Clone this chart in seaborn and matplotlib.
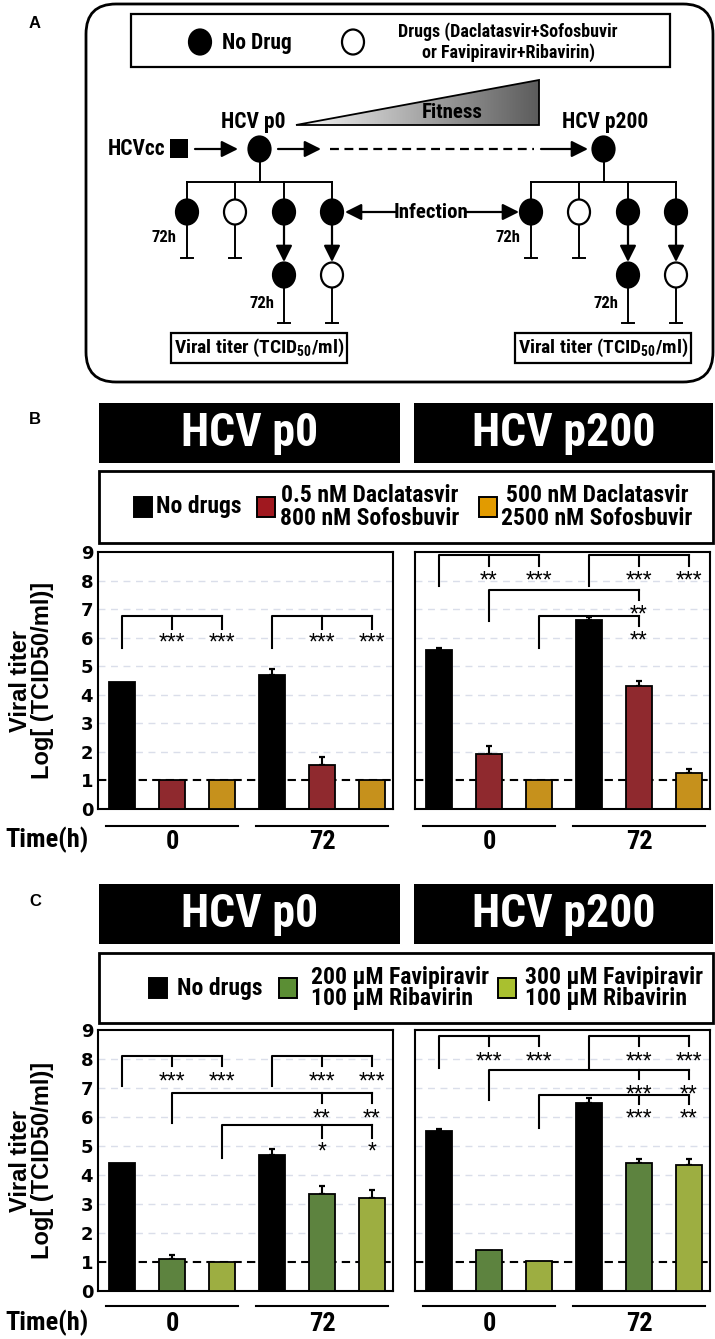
import matplotlib

matplotlib.use("Agg")
import matplotlib.pyplot as plt
import matplotlib.transforms as mtransforms
import numpy as np
import pandas as pd
import seaborn as sns
from matplotlib import font_manager
from matplotlib.colors import LinearSegmentedColormap
from matplotlib.patches import Ellipse, FancyBboxPatch, Polygon, Rectangle

W, H = 715, 1339

_names = {f.name for f in font_manager.fontManager.ttflist}
NARROW = next((n for n in ["Liberation Sans Narrow", "Arial Narrow", "Roboto Condensed",
                           "Open Sans Condensed", "Nimbus Sans Narrow"] if n in _names),
              "Liberation Sans")
SANS = "Liberation Sans"

plt.rcParams["font.family"] = [SANS, "DejaVu Sans"]
plt.rcParams["mathtext.fontset"] = "custom"
plt.rcParams["mathtext.rm"] = f"{NARROW}:bold"
plt.rcParams["mathtext.bf"] = f"{NARROW}:bold"

# ---- data -------------------------------------------------------------
TIMES = ["0", "72"]
TREATMENTS = ["none", "low", "high"]
B_LABELS = [["No drugs"], ["0.5 nM Daclatasvir", "800 nM Sofosbuvir"],
            ["500 nM Daclatasvir", "2500 nM Sofosbuvir"]]
C_LABELS = [["No drugs"], ["200 µM Favipiravir", "100 µM Ribavirin"],
            ["300 µM Favipiravir", "100 µM Ribavirin"]]
B_COLORS = ["#000000", "#A0181F", "#E29B00"]
C_COLORS = ["#000000", "#5B8E34", "#A9C02F"]
PASSAGES = ["HCV p0", "HCV p200"]

# order: 0h (none, low, high), 72h (none, low, high)
B_P0_MEAN = [4.45, 1.0, 1.0, 4.71, 1.53, 1.0]
B_P0_ERR = [0.0, 0.0, 0.0, 0.21, 0.28, 0.0]
B_P200_MEAN = [5.58, 1.91, 1.02, 6.62, 4.32, 1.26]
B_P200_ERR = [0.06, 0.29, 0.0, 0.12, 0.15, 0.14]
C_P0_MEAN = [4.42, 1.11, 1.0, 4.68, 3.36, 3.21]
C_P0_ERR = [0.0, 0.14, 0.0, 0.2, 0.25, 0.28]
C_P200_MEAN = [5.53, 1.4, 1.02, 6.49, 4.42, 4.36]
C_P200_ERR = [0.04, 0.0, 0.0, 0.18, 0.14, 0.2]

# significance brackets: (left bar, top, left leg end, tick end, star y, {bar: stars})
B_P0_SIG = [(0, 6.75, 5.65, 6.3, 6.04, {1: "***", 2: "***"}),
            (3, 6.75, 5.65, 6.3, 6.04, {4: "***", 5: "***"})]
B_P200_SIG = [(0, 8.9, 7.8, 8.5, 8.2, {1: "**", 2: "***"}),
              (3, 8.9, 7.8, 8.5, 8.2, {4: "***", 5: "***"}),
              (1, 7.68, 6.6, 7.32, 7.02, {4: "**"}),
              (2, 6.77, 5.65, 6.42, 6.12, {4: "**"})]
C_P0_SIG = [(0, 8.1, 7.07, 7.76, 7.42, {1: "***", 2: "***"}),
            (3, 8.1, 7.07, 7.76, 7.42, {4: "***", 5: "***"}),
            (1, 6.82, 5.8, 6.49, 6.16, {4: "**", 5: "**"}),
            (2, 5.74, 4.6, 5.28, 5.0, {4: "*", 5: "*"})]
C_P200_SIG = [(0, 8.78, 7.7, 8.45, 8.1, {1: "***", 2: "***"}),
              (3, 8.78, 7.7, 8.45, 8.1, {4: "***", 5: "***"}),
              (1, 7.62, 6.58, 7.32, 6.98, {4: "***", 5: "**"}),
              (2, 6.76, 5.63, 6.44, 6.15, {4: "***", 5: "**"})]


def narrow_factor():
    # shrink sizes when no condensed face is installed, so widths match
    tmp = plt.figure(dpi=100)
    t = tmp.text(0, 0, "Drugs (Daclatasvir+Sofosbuvir", fontsize=13, fontweight="bold", family=NARROW)
    w = t.get_window_extent(tmp.canvas.get_renderer()).width
    plt.close(tmp)
    return min(1.0, 227 / w)


NF = narrow_factor()


def px_rect(x0, y0, x1, y1):
    return [x0 / W, 1 - y1 / H, (x1 - x0) / W, (y1 - y0) / H]


def slot_x(i):
    return i // 3 + (i % 3 - 1) / 3


def titer_frame(means):
    return pd.DataFrame({
        "time": [TIMES[i // 3] for i in range(len(means))],
        "treatment": [TREATMENTS[i % 3] for i in range(len(means))],
        "titer": means,
    })


# ---- scheme helpers ---------------------------------------------------
def circle(cv, x, y, filled):
    cv.add_patch(Ellipse((x, y), 22, 25, facecolor="black" if filled else "white",
                         edgecolor="black", lw=1.6, zorder=3))


def arrow(cv, x0, y0, x1, y1):
    cv.annotate("", xy=(x1, y1), xytext=(x0, y0),
                arrowprops=dict(arrowstyle="-|>,head_length=0.9,head_width=0.45", color="black",
                                lw=1.6, shrinkA=0, shrinkB=0, mutation_scale=11))


def stop(cv, x, y0, y1):
    cv.plot([x, x], [y0, y1], color="black", lw=1.4)
    cv.plot([x - 6, x + 6], [y1, y1], color="black", lw=1.4)


def label(cv, x, y, s, size, ha="center", color="black", family=NARROW):
    if family == NARROW:
        size = size * NF
    cv.text(x, y, s, ha=ha, va="center", fontsize=size, fontweight="bold", color=color, family=family)


def lineage(cv, dx):
    cx = 259.5 + dx
    cv.plot([cx, cx], [162, 182], color="black", lw=1.4)
    cv.plot([187 + dx, 332 + dx], [182, 182], color="black", lw=1.4)
    for bx, filled in zip([187, 235, 284, 332], [True, False, True, True]):
        cv.plot([bx + dx, bx + dx], [182, 200], color="black", lw=1.4)
        circle(cv, bx + dx, 212, filled)
    stop(cv, 187 + dx, 224.5, 258)
    stop(cv, 235 + dx, 224.5, 258)
    arrow(cv, 284 + dx, 224.5, 284 + dx, 262)
    arrow(cv, 332 + dx, 224.5, 332 + dx, 262)
    circle(cv, 284 + dx, 275, True)
    circle(cv, 332 + dx, 275, False)
    stop(cv, 284 + dx, 287.5, 323)
    stop(cv, 332 + dx, 287.5, 323)
    label(cv, 177 + dx, 238, "72h", 12, ha="right")
    label(cv, 274 + dx, 303, "72h", 12, ha="right")
    cv.add_patch(Rectangle((171 + dx, 333), 176, 30, facecolor="white", edgecolor="black", lw=1.6))
    label(cv, 259 + dx, 348, r"Viral titer (TCID$_{50}$/ml)", 14)


def draw_scheme(cv):
    label(cv, 35, 23, "A", 12, family=SANS)
    cv.add_patch(FancyBboxPatch((86, 4), 627, 378, boxstyle="round,pad=0,rounding_size=30",
                                facecolor="white", edgecolor="black", lw=2))
    cv.add_patch(Rectangle((131, 14), 539, 53, facecolor="white", edgecolor="black", lw=1.6))
    circle(cv, 200, 42, True)
    label(cv, 222, 43, "No Drug", 15.5, ha="left")
    circle(cv, 353, 42, False)
    label(cv, 508, 32, "Drugs (Daclatasvir+Sofosbuvir", 13)
    label(cv, 508, 53, "or Favipiravir+Ribavirin)", 13)

    tri = Polygon([(296, 125), (539, 80), (539, 125)], closed=True, facecolor="none",
                  edgecolor="black", lw=1.3, zorder=3)
    cv.add_patch(tri)
    cmap = LinearSegmentedColormap.from_list("fit", ["#f6f6f6", "#5c5c5c"])
    img = cv.imshow(np.linspace(0, 1, 256)[None, :], cmap=cmap, extent=(296, 539, 125, 80),
                    aspect="auto", zorder=2)
    img.set_clip_path(tri)
    label(cv, 452, 112, "Fitness", 15)
    label(cv, 253, 122, "HCV p0", 15.5)
    label(cv, 605, 122, "HCV p200", 15.5)

    label(cv, 165, 149, "HCVcc", 15.5, ha="right")
    cv.add_patch(Rectangle((170, 139), 18, 19, facecolor="black"))
    arrow(cv, 195, 149, 238, 149)
    circle(cv, 259.5, 149, True)
    arrow(cv, 278, 149, 321, 149)
    cv.plot([330, 534], [149, 149], color="black", lw=1.6, ls=(0, (4, 2.5)))
    arrow(cv, 541, 149, 588, 149)
    circle(cv, 603.5, 149, True)

    lineage(cv, 0)
    lineage(cv, 344)
    label(cv, 431, 212, "Infection", 15)
    arrow(cv, 396, 212, 345, 212)
    arrow(cv, 466, 212, 519, 212)


def draw_header(cv, y0, letter):
    label(cv, 35, y0 + 17, letter, 12, family=SANS)
    for (x0, x1), name in zip([(99, 400), (414, 713)], PASSAGES):
        cv.add_patch(Rectangle((x0, y0), x1 - x0, 60, facecolor="black"))
        label(cv, (x0 + x1) / 2, y0 + 30, name, 33, color="white")


def draw_legend(cv, y0, y1, labels, colors, squares, text_x, centered):
    cv.add_patch(Rectangle((99, y0), 614, y1 - y0, facecolor="white", edgecolor="black", lw=2))
    mid = (y0 + y1) / 2
    for lines, col, sx, tx in zip(labels, colors, squares, text_x):
        cv.add_patch(Rectangle((sx, mid - 10), 18, 20, facecolor=col, edgecolor="black", lw=1.4))
        ha = "center" if centered and len(lines) > 1 else "left"
        if len(lines) == 1:
            label(cv, tx, mid, lines[0], 17, ha=ha)
        else:
            gap = 11.5 if centered else 10.5
            label(cv, tx, mid - gap, lines[0], 17, ha=ha)
            label(cv, tx, mid + gap, lines[1], 17, ha=ha)


# ---- bar panels -------------------------------------------------------
def draw_bars(ax, means, errs, colors, sigs, show_y, line_y):
    df = titer_frame(means)
    for v in range(2, 9):
        ax.axhline(v, color="#dadeea", lw=1.0, ls=(0, (5, 4)), zorder=0)
    ax.axhline(1, color="black", lw=1.5, ls=(0, (4, 2.5)), zorder=1)
    sns.barplot(data=df, x="time", y="titer", hue="treatment", order=TIMES, hue_order=TREATMENTS,
                palette=dict(zip(TREATMENTS, colors)), width=1.0, gap=0.48, edgecolor="black",
                linewidth=1.3, errorbar=None, legend=False, ax=ax, zorder=3)
    up = [(slot_x(i), m, e) for i, (m, e) in enumerate(zip(means, errs)) if e > 0]
    ax.errorbar([u[0] for u in up], [u[1] for u in up],
                yerr=[[0] * len(up), [u[2] for u in up]], fmt="none", ecolor="black",
                elinewidth=1.5, capsize=2.5, capthick=1.6, zorder=2)

    for left, top, leg, tick, star_y, stars in sigs:
        right = max(stars)
        ax.plot([slot_x(left), slot_x(left), slot_x(right)], [leg, top, top], color="black", lw=1.5)
        for pos, s in stars.items():
            ax.plot([slot_x(pos), slot_x(pos)], [top, tick], color="black", lw=1.5)
            ax.annotate(s, (slot_x(pos), star_y), xytext=(0, -9.2), textcoords="offset points",
                        ha="center", va="baseline", fontsize=16.5, family=SANS)

    ax.set_xlim(-0.493, 1.473)
    ax.set_ylim(0, 9)
    ax.set_yticks(range(10))
    ax.set_xticks([0, 1])
    ax.set_xticklabels(TIMES, fontsize=19 * NF, fontweight="bold", family=NARROW)
    ax.tick_params(axis="x", length=0, pad=15)
    ax.tick_params(axis="y", length=0, pad=3.5, labelleft=show_y)
    for t in ax.get_yticklabels():
        t.set_fontfamily("DejaVu Sans")
        t.set_fontweight("bold")
        t.set_fontsize(13)
    ax.set_xlabel("")
    ax.set_ylabel("")
    for sp in ax.spines.values():
        sp.set_visible(True)
        sp.set_linewidth(1.5)
        sp.set_color("black")
    ax.set_facecolor("none")
    blend = mtransforms.blended_transform_factory(ax.transData, ax.transAxes)
    for g in range(len(TIMES)):
        ax.plot([g - 0.44, g + 0.44], [line_y, line_y], color="black", lw=1.5,
                transform=blend, clip_on=False)
    if show_y:
        ax.set_ylabel("Viral titer\nLog[ (TCID50/ml)]", fontsize=17, fontweight="bold",
                      family=SANS, linespacing=0.95)
        ax.yaxis.set_label_coords(-0.15, 0.5)


fig = plt.figure(figsize=(W / 100, H / 100), dpi=100)
cv = fig.add_axes([0, 0, 1, 1])
cv.set_xlim(0, W)
cv.set_ylim(H, 0)
cv.axis("off")

draw_scheme(cv)

# panel B
draw_header(cv, 403, "B")
draw_legend(cv, 471, 543, B_LABELS, B_COLORS, [134, 257, 479], [156, 370, 597], True)
label(cv, 5, 840, "Time(h)", 19, ha="left")
ax_b0 = fig.add_axes(px_rect(98, 552, 393, 809))
ax_b1 = fig.add_axes(px_rect(415, 552, 710, 809))
draw_bars(ax_b0, B_P0_MEAN, B_P0_ERR, B_COLORS, B_P0_SIG, True, -0.066)
draw_bars(ax_b1, B_P200_MEAN, B_P200_ERR, B_COLORS, B_P200_SIG, False, -0.066)

# panel C
draw_header(cv, 884, "C")
draw_legend(cv, 953, 1023, C_LABELS, C_COLORS, [149, 279, 498], [177, 311, 525], False)
label(cv, 5, 1323, "Time(h)", 19, ha="left")
ax_c0 = fig.add_axes(px_rect(98, 1030, 393, 1291))
ax_c1 = fig.add_axes(px_rect(415, 1030, 710, 1291))
draw_bars(ax_c0, C_P0_MEAN, C_P0_ERR, C_COLORS, C_P0_SIG, True, -0.058)
draw_bars(ax_c1, C_P200_MEAN, C_P200_ERR, C_COLORS, C_P200_SIG, False, -0.058)

fig.savefig("out.png", dpi=100)
